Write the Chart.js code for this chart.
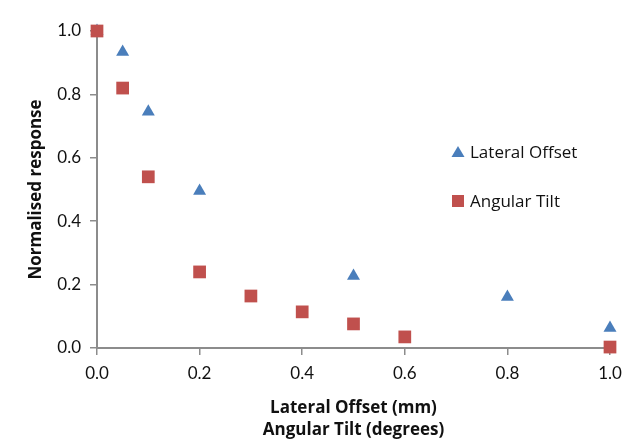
<!DOCTYPE html>
<html>
<head>
<meta charset="utf-8">
<script src="https://cdn.jsdelivr.net/npm/chart.js@4"></script>
<style>
  html, body { margin: 0; padding: 0; background: #fff; }
  #wrap { width: 624px; height: 441px; }
</style>
</head>
<body>
<div id="wrap"><canvas id="chart" width="624" height="441"></canvas></div>
<script>
// Values
const lateralX = [0.0, 0.05, 0.1, 0.2, 0.5, 0.8, 1.0];
const lateralY = [1.0, 0.934, 0.745, 0.495, 0.227, 0.161, 0.063];

const tiltX = [0.0, 0.05, 0.1, 0.2, 0.3, 0.4, 0.5, 0.6, 1.0];
const tiltY = [1.0, 0.82, 0.54, 0.24, 0.164, 0.114, 0.076, 0.035, 0.003];

const seriesNames = ['Lateral Offset', 'Angular Tilt'];
const xTitle = ['Lateral Offset (mm)', 'Angular Tilt (degrees)'];
const yTitle = 'Normalised response';

const blue = '#4A7EBB';
const red = '#C0504D';
const axisGrey = '#8c8c8c';
const tickFont = 'Lato, "Open Sans", sans-serif';
const textFont = '"Open Sans", Lato, sans-serif';

function toPoints(xs, ys) {
    return xs.map((x, i) => ({ x: x, y: ys[i] }));
}

// draws the legend inside the plot area, to the right
const insideLegend = {
    id: 'insideLegend',
    afterDraw(chart) {
        const ctx = chart.ctx;
        const area = chart.chartArea;
        const x0 = area.left + 361;
        const rows = [area.top + 121, area.top + 170];
        ctx.save();
        ctx.font = '17px ' + textFont;
        ctx.textBaseline = 'middle';
        chart.data.datasets.forEach((ds, i) => {
            const y = rows[i];
            ctx.fillStyle = ds.backgroundColor;
            ctx.beginPath();
            if (ds.pointStyle === 'triangle') {
                ctx.moveTo(x0, y - 6);
                ctx.lineTo(x0 + 6.5, y + 5);
                ctx.lineTo(x0 - 6.5, y + 5);
                ctx.closePath();
                ctx.fill();
            } else {
                ctx.fillRect(x0 - 6, y - 6, 12, 12);
            }
            ctx.fillStyle = '#111';
            ctx.fillText(ds.label, x0 + 12, y + 1);
        });
        ctx.restore();
    }
};

const ctx = document.getElementById('chart').getContext('2d');
const chart = new Chart(ctx, {
    type: 'scatter',
    data: {
        datasets: [
            {
                label: seriesNames[0],
                data: toPoints(lateralX, lateralY),
                pointStyle: 'triangle',
                pointRadius: 7.5,
                pointHoverRadius: 7.5,
                backgroundColor: blue,
                borderColor: blue,
                borderWidth: 0,
                clip: false,
                order: 2
            },
            {
                label: seriesNames[1],
                data: toPoints(tiltX, tiltY),
                pointStyle: 'rect',
                pointRadius: 9,
                pointHoverRadius: 9,
                backgroundColor: red,
                borderColor: red,
                borderWidth: 0,
                clip: false,
                order: 1
            }
        ]
    },
    options: {
        responsive: false,
        animation: false,
        layout: { autoPadding: false, padding: { top: 31, right: 14, bottom: 0, left: 26 } },
        plugins: {
            legend: { display: false },
            tooltip: { enabled: false }
        },
        scales: {
            x: {
                type: 'linear',
                min: 0,
                max: 1,
                afterFit: function(scale) {
                    scale.height = 93;
                    // stop the last tick label from shrinking the plot area
                    scale.paddingLeft = 0;
                    scale.paddingRight = 0;
                },
                ticks: {
                    stepSize: 0.2,
                    color: '#111',
                    font: { family: tickFont, size: 17 },
                    padding: 8,
                    maxRotation: 0,
                    callback: v => v.toFixed(1)
                },
                grid: {
                    drawOnChartArea: false,
                    color: axisGrey,
                    lineWidth: 1.5,
                    tickLength: 7
                },
                border: { color: axisGrey, width: 2 },
                title: {
                    display: true,
                    text: xTitle,
                    color: '#111',
                    font: { family: textFont, size: 17, weight: 'bold', lineHeight: 1.3 },
                    padding: { top: 0, bottom: 0 }
                }
            },
            y: {
                min: 0,
                max: 1,
                afterFit: function(scale) {
                    scale.width = 71;
                    scale.paddingTop = 0;
                    scale.paddingBottom = 0;
                },
                ticks: {
                    stepSize: 0.2,
                    color: '#111',
                    font: { family: tickFont, size: 17 },
                    padding: 9,
                    callback: v => v.toFixed(1)
                },
                grid: {
                    drawOnChartArea: false,
                    color: axisGrey,
                    lineWidth: 1.5,
                    tickLength: 7
                },
                border: { color: axisGrey, width: 2 },
                title: {
                    display: true,
                    text: yTitle,
                    color: '#111',
                    font: { family: textFont, size: 17, weight: 'bold' },
                    padding: { top: 0, bottom: 0 }
                }
            }
        }
    },
    plugins: [insideLegend]
});
</script>
</body>
</html>
